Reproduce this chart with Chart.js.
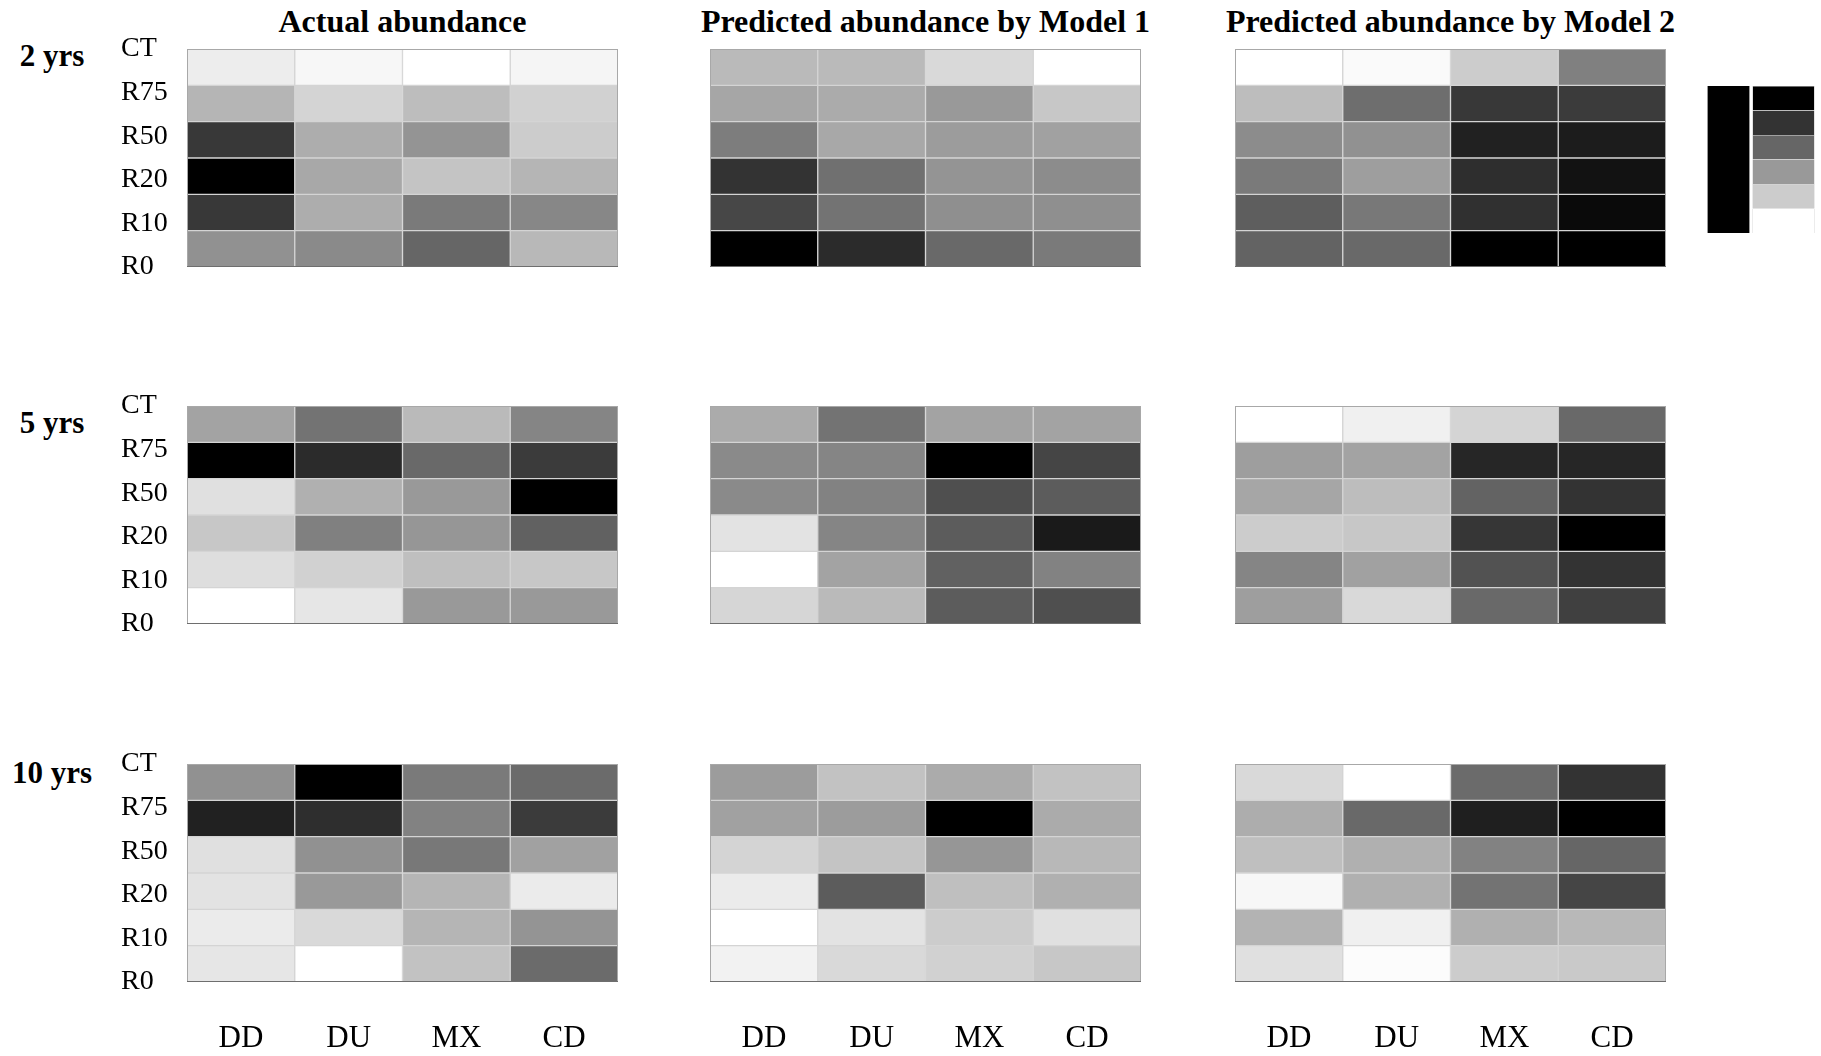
<!DOCTYPE html>
<html>
<head>
<meta charset="utf-8">
<title>Actual and predicted abundance</title>
<script src="https://cdn.jsdelivr.net/npm/chart.js@4.4.1/dist/chart.umd.min.js"></script>
<style>
  body { margin: 0; background: #fff; }
  #page { position: relative; width: 1821px; height: 1056px; overflow: hidden; font-family: "Liberation Serif", "Times New Roman", serif; color: #000; }
  #page canvas { position: absolute; }
  .period { position: absolute; width: 104px; text-align: center; font-weight: bold; font-size: 31px; line-height: 36px; }
  .title { position: absolute; width: 600px; text-align: center; font-weight: bold; font-size: 32px; line-height: 38px; white-space: nowrap; }
</style>
</head>
<body>
<div id="page"></div>
<script>
const treatments = ["CT", "R75", "R50", "R20", "R10", "R0"]
const systems = ["DD", "DU", "MX", "CD"]
const panelTitles = ["Actual abundance", "Predicted abundance by Model 1", "Predicted abundance by Model 2"]
const periods = ["2 yrs", "5 yrs", "10 yrs"]
const legendLevels = [0, 20, 40, 60, 80, 100]

// relative abundance, 0 = lowest (white) .. 100 = highest (black)
// rows: CT, R75, R50, R20, R10, R0 ; columns: DD, DU, MX, CD
const actual2 = [
  [7, 3, 0, 4],
  [29, 17, 26, 18],
  [78, 32, 42, 20],
  [100, 34, 23, 29],
  [78, 32, 52, 47],
  [43, 46, 60, 28]
]
const model1_2 = [
  [27, 27, 15, 0],
  [35, 33, 40, 22],
  [51, 34, 39, 37],
  [80, 56, 42, 45],
  [72, 55, 44, 44],
  [100, 83, 59, 52]
]
const model2_2 = [
  [0, 2, 20, 50],
  [26, 57, 78, 77],
  [45, 43, 87, 89],
  [52, 38, 82, 93],
  [63, 53, 81, 96],
  [61, 59, 100, 100]
]
const actual5 = [
  [36, 55, 27, 48],
  [100, 83, 59, 77],
  [12, 31, 40, 100],
  [22, 50, 41, 62],
  [13, 18, 25, 22],
  [0, 10, 40, 40]
]
const model1_5 = [
  [33, 55, 36, 36],
  [46, 48, 100, 73],
  [46, 49, 69, 64],
  [11, 48, 64, 90],
  [0, 36, 62, 49],
  [16, 27, 64, 69]
]
const model2_5 = [
  [0, 6, 17, 59],
  [38, 36, 85, 85],
  [35, 26, 61, 80],
  [20, 22, 79, 100],
  [48, 37, 68, 80],
  [38, 15, 59, 75]
]
const actual10 = [
  [43, 100, 52, 58],
  [87, 82, 49, 77],
  [12, 43, 53, 37],
  [11, 40, 29, 8],
  [8, 15, 29, 42],
  [10, 0, 24, 58]
]
const model1_10 = [
  [39, 24, 33, 24],
  [37, 39, 100, 33],
  [17, 23, 41, 28],
  [8, 64, 25, 31],
  [0, 11, 20, 12],
  [5, 15, 18, 22]
]
const model2_10 = [
  [15, 0, 58, 80],
  [32, 59, 88, 100],
  [25, 31, 49, 60],
  [3, 31, 55, 73],
  [30, 6, 31, 28],
  [12, 1, 20, 21]
]

const panels = [
  [actual2, model1_2, model2_2],
  [actual5, model1_5, model2_5],
  [actual10, model1_10, model2_10]
]

const serif = "'Liberation Serif', 'Times New Roman', serif"
const page = document.getElementById("page")

function shade(v) {
  const g = Math.round(255 - v * 2.55)
  return "rgb(" + g + "," + g + "," + g + ")"
}

const framePlugin = {
  id: "frame",
  afterDatasetsDraw(chart) {
    const { ctx, chartArea: a } = chart
    ctx.save()
    ctx.lineWidth = 1
    ctx.strokeStyle = "#a8a8a8"
    ctx.strokeRect(a.left + 0.5, a.top + 0.5, a.width - 1, a.height - 1)
    ctx.strokeStyle = "#6e6e6e"
    ctx.beginPath()
    ctx.moveTo(a.left, a.bottom - 0.5)
    ctx.lineTo(a.right, a.bottom - 0.5)
    ctx.stroke()
    ctx.restore()
  }
}

function addCanvas(left, top, width, height) {
  const c = document.createElement("canvas")
  c.width = width
  c.height = height
  c.style.left = left + "px"
  c.style.top = top + "px"
  page.appendChild(c)
  return c
}

function addText(cls, text, left, top) {
  const d = document.createElement("div")
  d.className = cls
  d.textContent = text
  d.style.left = left + "px"
  d.style.top = top + "px"
  page.appendChild(d)
}

function createPanel(canvas, values, opts) {
  const datasets = []
  for (let r = treatments.length - 1; r >= 0; r--) {
    datasets.push({
      label: treatments[r],
      data: systems.map(() => 1),
      backgroundColor: values[r].map(shade),
      borderColor: "#d4d4d4",
      borderWidth: 1,
      borderSkipped: false,
      barPercentage: 1,
      categoryPercentage: 1
    })
  }
  return new Chart(canvas, {
    type: "bar",
    data: { labels: systems, datasets: datasets },
    plugins: [framePlugin],
    options: {
      responsive: false,
      animation: false,
      layout: { padding: opts.padding },
      scales: {
        x: {
          display: opts.showCols,
          stacked: true,
          grid: { display: false },
          border: { display: false },
          ticks: { color: "#000", font: { family: serif, size: 31 }, padding: 30 },
          afterFit: s => { if (opts.showCols) s.height = 74 }
        },
        y: { display: false, stacked: true, min: 0, max: treatments.length },
        rows: {
          display: opts.showRows,
          position: "left",
          min: 0,
          max: treatments.length - 1,
          grid: { display: false },
          border: { display: false },
          ticks: {
            stepSize: 1,
            autoSkip: false,
            crossAlign: "far",
            color: "#000",
            font: { family: serif, size: 28 },
            callback: v => treatments[treatments.length - 1 - v]
          },
          afterFit: s => { if (opts.showRows) s.width = 66 }
        }
      },
      plugins: {
        legend: { display: false },
        tooltip: { enabled: false }
      }
    }
  })
}

const colLeft = [187, 710, 1235]
const rowTop = [49, 406, 764]
const cellW = 431
const cellH = 218
const periodCenter = [56, 423, 773]

panelTitles.forEach((t, ci) => addText("title", t, colLeft[ci] + cellW / 2 - 300, 2))

panels.forEach((row, ri) => {
  addText("period", periods[ri], 0, periodCenter[ri] - 18)

  row.forEach((values, ci) => {
    const showRows = ci === 0
    const showCols = ri === panels.length - 1
    const axisW = showRows ? 66 : 0
    const bottom = showCols ? 74 : 20
    const canvas = addCanvas(colLeft[ci] - axisW, rowTop[ri] - 20, cellW + axisW, 20 + cellH + bottom)
    createPanel(canvas, values, {
      showRows: showRows,
      showCols: showCols,
      padding: { top: 20, bottom: showCols ? 0 : 20, left: 0, right: 0 }
    })
  })
})

// shade key
const legendDatasets = [{
  data: [legendLevels.length, null],
  backgroundColor: "#000",
  barPercentage: 0.76,
  categoryPercentage: 1,
  clip: false
}]
legendLevels.forEach(v => {
  legendDatasets.push({
    data: [null, 1],
    backgroundColor: shade(v),
    borderColor: "#b8b8b8",
    borderWidth: 0.5,
    barPercentage: 1.13,
    categoryPercentage: 1,
    clip: false
  })
})
new Chart(addCanvas(1700, 86, 121, 147), {
  type: "bar",
  data: { labels: ["", ""], datasets: legendDatasets },
  options: {
    responsive: false,
    animation: false,
    layout: { padding: { left: 1, right: 10, top: 0, bottom: 0 } },
    scales: {
      x: { display: false, stacked: true },
      y: { display: false, stacked: true, min: 0, max: legendLevels.length }
    },
    plugins: { legend: { display: false }, tooltip: { enabled: false } }
  }
})
</script>
</body>
</html>
